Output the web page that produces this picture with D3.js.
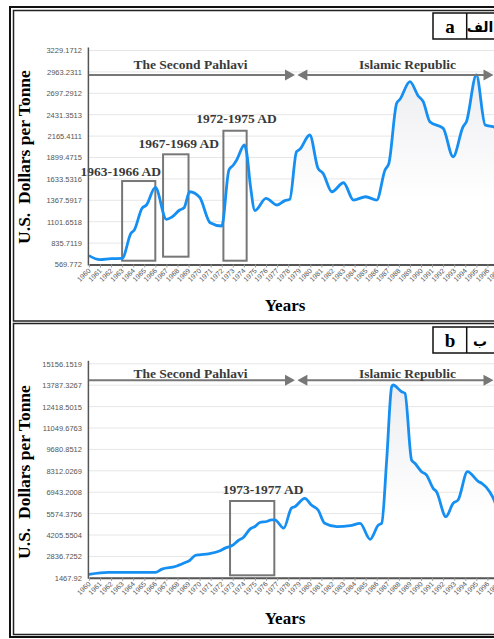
<!DOCTYPE html>
<html>
<head>
<meta charset="utf-8">
<script src="https://cdn.jsdelivr.net/npm/d3@7"></script>
<style>
  body { margin: 0; background: #fff; }
  svg { display: block; }
  .axis text { font-family: 'Liberation Sans', Arial, sans-serif; fill: #555; }
  .serif { font-family: 'Liberation Serif', 'Times New Roman', serif; font-weight: bold; }
</style>
</head>
<body>
<script>
var years = d3.range(1960, 1998);

var yearsA = [1960, 1961, 1962, 1963, 1963.8, 1964.1, 1964.8, 1965.2, 1966, 1967, 1967.5, 1968.2, 1968.6, 1969.1,
  1970, 1970.95, 1972, 1972.65, 1973.05, 1973.35, 1974.05, 1974.25, 1974.6, 1975, 1976, 1977, 1977.7, 1978.15,
  1978.75, 1979.05, 1979.95, 1980.7, 1981.15, 1981.95, 1983, 1983.9, 1985, 1986, 1986.75, 1987.1, 1987.8, 1988.1,
  1989, 1989.75, 1990.2, 1990.8, 1992, 1992.9, 1993.8, 1994.1, 1995, 1995.8, 1996.5, 1997.2];
var priceA = [680, 630, 642, 645, 957, 998, 1268, 1309, 1529, 1131, 1160, 1247, 1275, 1474,
  1405, 1089, 1048, 1744, 1806, 1868, 2055, 1960, 1537, 1240, 1392, 1309, 1363, 1380,
  1971, 2001, 2179, 1765, 1703, 1474, 1586, 1371, 1412, 1371, 1744, 1827, 2573, 2623,
  2842, 2664, 2593, 2344, 2262, 1909, 2282, 2344, 2925, 2303, 2282, 2250];
var ticksA = [569.772, 835.7119, 1101.6518, 1367.5917, 1633.5316, 1899.4715, 2165.4111, 2431.3513, 2697.2912, 2963.2311, 3229.1712];
var periodsA = ['1963-1966 AD', '1967-1969 AD', '1972-1975 AD'];
var spansA = [[1963, 1966], [1966.7, 1969], [1972.15, 1974.25]];
var rangesA = [[617, 1607], [667, 1939], [617, 2232]];

// panel b
var yearsB = [1960, 1961.75, 1966, 1966.6, 1967.8, 1968.7, 1969.1, 1969.6, 1970, 1970.8, 1971.85, 1972.3, 1972.9,
  1973.5, 1973.95, 1974.55, 1975, 1975.45, 1976.05, 1976.5, 1976.8, 1977.6, 1978.3, 1978.6, 1979.5, 1980.1, 1980.7,
  1981.3, 1982.4, 1983.6, 1984.5, 1985.4, 1986.15, 1986.45, 1986.9, 1987.35, 1987.47, 1988.25, 1988.55, 1989.15,
  1989.45, 1990.05, 1990.5, 1991.1, 1991.4, 1992.25, 1992.9, 1993.35, 1994.2, 1995.2, 1995.5, 1996.2, 1996.6, 1997.2];
var priceB = [1692, 1820, 1810, 2024, 2190, 2446, 2574, 2894, 2939, 3003, 3195, 3367, 3514,
  3853, 4045, 4582, 4749, 5005, 5069, 5178, 5178, 4646, 5925, 6015, 6553, 6124, 5804,
  4954, 4736, 4800, 4954, 3930, 4845, 4954, 9002, 13691, 13799, 13371, 13268, 9002,
  8791, 8254, 8043, 7192, 6975, 5376, 6233, 6444, 8254, 7614, 7512, 6975, 6444, 5000];
var ticksB = [1467.92, 2836.7252, 4205.5504, 5574.3756, 6943.2008, 8312.0269, 9680.8512, 11049.6763, 12418.5015, 13787.3267, 15156.1519];
var periodsB = ['1973-1977 AD'];
var spansB = [[1972.75, 1976.75]];
var rangesB = [[1628, 6380]];

var eras = ['The Second Pahlavi', 'Islamic Republic'];
var eraSpans = [[1960, 1978.62], [1978.83, 1996.55]];

var svg = d3.select('body').append('svg')
  .attr('width', 494)
  .attr('height', 639);

svg.append('rect').attr('width', 494).attr('height', 639).attr('fill', '#fff');

// table frame
svg.append('rect').attr('x', 10).attr('y', 7).attr('width', 600).attr('height', 630)
  .attr('fill', 'none').attr('stroke', '#111').attr('stroke-width', 2);
svg.append('rect').attr('x', 13.5).attr('y', 10.5).attr('width', 600).attr('height', 310.5)
  .attr('fill', 'none').attr('stroke', '#222').attr('stroke-width', 1.5);
svg.append('rect').attr('x', 13.5).attr('y', 323.5).attr('width', 600).attr('height', 311)
  .attr('fill', 'none').attr('stroke', '#222').attr('stroke-width', 1.5);

function arrowHead (g, px, py, dir) {
  g.append('path')
    .attr('d', 'M' + px + ',' + py + 'l' + (-dir * 10) + ',-5.5v11z')
    .attr('fill', '#777');
}

function drawPanel (cfg) {
  var x = d3.scaleLinear().domain([1960, 1999]).range([88.9, 88.9 + 39 * 11.07]);
  var y = d3.scaleLinear().domain([cfg.ticks[0], cfg.ticks[cfg.ticks.length - 1]]).range([cfg.bottom, cfg.top]);
  var data = d3.zip(cfg.years, cfg.prices);
  var g = svg.append('g');

  var grad = svg.append('defs').append('linearGradient')
    .attr('id', 'fill-' + cfg.id)
    .attr('gradientUnits', 'userSpaceOnUse')
    .attr('x1', 0).attr('x2', 0).attr('y1', cfg.top).attr('y2', cfg.bottom);
  grad.append('stop').attr('offset', 0).attr('stop-color', '#e9eaee');
  grad.append('stop').attr('offset', 0.7).attr('stop-color', '#fff');

  // grid
  g.selectAll('.grid').data(cfg.ticks).enter().append('line')
    .attr('x1', x(1960)).attr('x2', 520)
    .attr('y1', function (d) { return y(d); }).attr('y2', function (d) { return y(d); })
    .attr('stroke', '#e6e6e6').attr('stroke-width', 1);

  var area = d3.area()
    .x(function (d) { return x(d[0]); })
    .y0(y(cfg.ticks[0]))
    .y1(function (d) { return y(d[1]); })
    .curve(d3.curveMonotoneX);
  var line = d3.line()
    .x(function (d) { return x(d[0]); })
    .y(function (d) { return y(d[1]); })
    .curve(d3.curveMonotoneX);

  g.append('path').datum(data).attr('d', area).attr('fill', 'url(#fill-' + cfg.id + ')');

  // period boxes
  cfg.spans.forEach(function (s, i) {
    var r = cfg.ranges[i];
    g.append('rect')
      .attr('x', x(s[0])).attr('y', y(r[1]))
      .attr('width', x(s[1]) - x(s[0])).attr('height', y(r[0]) - y(r[1]))
      .attr('fill', 'none').attr('stroke', '#777').attr('stroke-width', 2);
    g.append('text').attr('class', 'serif')
      .attr('x', (x(s[0]) + x(s[1])) / 2 + cfg.labelShift[i])
      .attr('y', y(r[1]) - cfg.labelGap[i])
      .attr('text-anchor', 'middle')
      .attr('font-size', 13.5)
      .attr('fill', '#3a3a3a')
      .text(cfg.periods[i]);
  });

  g.append('path').datum(data).attr('d', line)
    .attr('fill', 'none').attr('stroke', '#168ff2').attr('stroke-width', 2.8)
    .attr('stroke-linejoin', 'round');

  // y axis
  var yAxis = g.append('g').attr('class', 'axis')
    .attr('transform', 'translate(' + x(1960) + ',0)')
    .call(d3.axisLeft(y).tickValues(cfg.ticks).tickSize(0).tickPadding(7).tickFormat(String));
  yAxis.select('.domain').remove();
  yAxis.selectAll('text').attr('font-size', 7.5);
  g.append('line')
    .attr('x1', x(1960) - 0.5).attr('x2', x(1960) - 0.5)
    .attr('y1', cfg.top - 3).attr('y2', cfg.bottom + 1)
    .attr('stroke', '#555').attr('stroke-width', 1.5);

  // x axis
  var xAxis = g.append('g').attr('class', 'axis')
    .attr('transform', 'translate(0,' + cfg.bottom + ')')
    .call(d3.axisBottom(x).tickValues(years).tickSize(3).tickSizeOuter(0).tickFormat(d3.format('d')));
  xAxis.select('.domain').attr('stroke', '#555').attr('stroke-width', 2);
  xAxis.selectAll('.tick line').attr('stroke', '#999');
  xAxis.selectAll('text')
    .attr('font-size', 7)
    .attr('text-anchor', 'end')
    .attr('x', 0).attr('y', 0).attr('dy', '0.35em')
    .attr('transform', 'translate(0,5) rotate(-45)');

  // era arrows
  var ay = cfg.arrowY;
  g.append('line').attr('x1', x(eraSpans[0][0])).attr('x2', x(eraSpans[0][1]) - 8)
    .attr('y1', ay).attr('y2', ay).attr('stroke', '#777').attr('stroke-width', 2);
  arrowHead(g, x(eraSpans[0][1]), ay, 1);
  g.append('line').attr('x1', x(eraSpans[1][0]) + 8).attr('x2', x(eraSpans[1][1]) - 8)
    .attr('y1', ay).attr('y2', ay).attr('stroke', '#777').attr('stroke-width', 2);
  arrowHead(g, x(eraSpans[1][0]), ay, -1);
  arrowHead(g, x(eraSpans[1][1]), ay, 1);
  eras.forEach(function (e, i) {
    g.append('text').attr('class', 'serif')
      .attr('x', cfg.eraX[i]).attr('y', ay - cfg.eraGap)
      .attr('text-anchor', 'middle').attr('font-size', 13.5).attr('fill', '#3a3a3a')
      .text(e);
  });

  // axis titles
  g.append('text').attr('class', 'serif')
    .attr('transform', 'translate(30,' + cfg.titleMid + ') rotate(-90)')
    .attr('text-anchor', 'middle').attr('font-size', 17.5)
    .style('white-space', 'pre')
    .text('U.S.  Dollars per Tonne');
  g.append('text').attr('class', 'serif')
    .attr('x', 285).attr('y', cfg.bottom + 46)
    .attr('text-anchor', 'middle').attr('font-size', 17)
    .text('Years');

  // panel tag
  g.append('rect').attr('x', 433).attr('y', cfg.tagTop).attr('width', 80).attr('height', 26)
    .attr('fill', '#fff').attr('stroke', '#111').attr('stroke-width', 1.5);
  g.append('line').attr('x1', 466.7).attr('x2', 466.7).attr('y1', cfg.tagTop).attr('y2', cfg.tagTop + 26)
    .attr('stroke', '#111').attr('stroke-width', 1.5);
  g.append('text').attr('class', 'serif')
    .attr('x', 450).attr('y', cfg.tagTop + 20).attr('text-anchor', 'middle').attr('font-size', 19)
    .text(cfg.tag[0]);
  g.append('text')
    .attr('x', 480).attr('y', cfg.tagTop + 19).attr('text-anchor', 'middle')
    .attr('font-family', "'DejaVu Sans', sans-serif").attr('font-weight', 'bold').attr('font-size', 14)
    .text(cfg.tag[1]);
}

drawPanel({
  id: 'a', years: yearsA, prices: priceA, ticks: ticksA,
  periods: periodsA, spans: spansA, ranges: rangesA,
  top: 50.5, bottom: 264.5, arrowY: 75, eraGap: 6, eraX: [190.5, 407.5],
  labelShift: [-18, 3, 1.5], labelGap: [5, 6, 7.5],
  titleMid: 157, tagTop: 13, tag: ['a', 'الف']
});

drawPanel({
  id: 'b', years: yearsB, prices: priceB, ticks: ticksB,
  periods: periodsB, spans: spansB, ranges: rangesB,
  top: 363.8, bottom: 577.8, arrowY: 380.3, eraGap: 2.5, eraX: [190.5, 407.5],
  labelShift: [11], labelGap: [7],
  titleMid: 472, tagTop: 327, tag: ['b', 'ب']
});
</script>
</body>
</html>
